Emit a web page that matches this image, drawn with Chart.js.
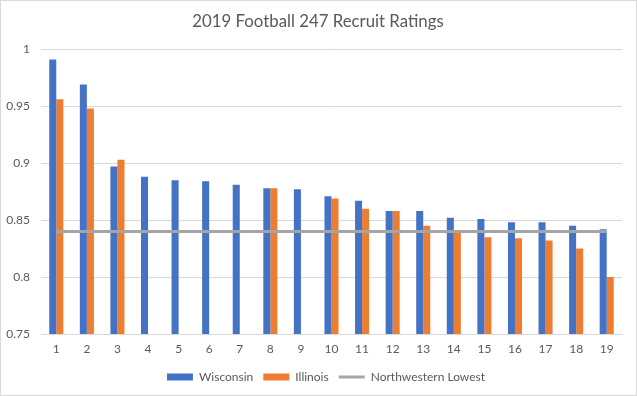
<!DOCTYPE html>
<html>
<head>
<meta charset="utf-8">
<script src="https://cdn.jsdelivr.net/npm/chart.js@4/dist/chart.umd.min.js"></script>
<style>
  html, body { margin: 0; padding: 0; background: #fff; }
  #wrap { position: relative; width: 637px; height: 396px; }
  #frame { position: absolute; left: 0; top: 0; width: 637px; height: 396px; box-sizing: border-box; border: 1px solid #d9d9d9; pointer-events: none; }
</style>
</head>
<body>
<div id="wrap">
  <canvas id="chart" width="637" height="396"></canvas>
  <div id="frame"></div>
</div>
<script>
// Chart data
const categories = ['1', '2', '3', '4', '5', '6', '7', '8', '9', '10', '11', '12', '13', '14', '15', '16', '17', '18', '19'];
const wisconsin = [0.991, 0.969, 0.897, 0.888, 0.885, 0.884, 0.881, 0.878, 0.877, 0.871, 0.867, 0.858, 0.858, 0.852, 0.851, 0.848, 0.848, 0.845, 0.842];
const illinois = [0.956, 0.948, 0.903, null, null, null, null, 0.878, null, 0.869, 0.860, 0.858, 0.845, 0.840, 0.835, 0.834, 0.832, 0.825, 0.800];
const northwesternLowest = [0.84, 0.84, 0.84, 0.84, 0.84, 0.84, 0.84, 0.84, 0.84, 0.84, 0.84, 0.84, 0.84, 0.84, 0.84, 0.84, 0.84, 0.84, 0.84];
const yTicks = [0.75, 0.8, 0.85, 0.9, 0.95, 1];
const yTickLabels = ['0.75', '0.8', '0.85', '0.9', '0.95', '1'];

const textColor = '#595959';
const gridColor = '#d9d9d9';
const fontFamily = 'Lato, "Liberation Sans", sans-serif';

// nudge title and legend so they sit centred on the whole chart like the original
const centreShift = {
    id: 'centreShift',
    afterLayout(chart) {
        if (chart.legend) {
            chart.legend.left += 15;
            chart.legend.right += 15;
        }
        if (chart.titleBlock) {
            chart.titleBlock.left += 7;
            chart.titleBlock.right += 7;
        }
    }
};

const ctx = document.getElementById('chart').getContext('2d');

new Chart(ctx, {
    data: {
        labels: categories,
        datasets: [
            {
                type: 'line',
                label: 'Northwestern Lowest',
                data: northwesternLowest,
                borderColor: '#a5a5a5',
                backgroundColor: '#a5a5a5',
                borderWidth: 3,
                pointRadius: 0,
                order: 0
            },
            {
                type: 'bar',
                label: 'Wisconsin',
                data: wisconsin,
                backgroundColor: '#4472c4',
                categoryPercentage: 0.46,
                barPercentage: 1,
                order: 1
            },
            {
                type: 'bar',
                label: 'Illinois',
                data: illinois,
                backgroundColor: '#ed7d31',
                categoryPercentage: 0.46,
                barPercentage: 1,
                order: 2
            }
        ]
    },
    options: {
        responsive: false,
        animation: false,
        layout: { padding: { left: 0, right: 15, top: 0, bottom: 3 } },
        plugins: {
            title: {
                display: true,
                text: '2019 Football 247 Recruit Ratings',
                color: textColor,
                font: { family: fontFamily, size: 16.8, weight: 'normal' },
                padding: { top: 12, bottom: 17 }
            },
            legend: {
                position: 'bottom',
                labels: {
                    color: textColor,
                    font: { family: fontFamily, size: 12 },
                    usePointStyle: true,
                    pointStyleWidth: 26,
                    boxHeight: 7,
                    padding: 10,
                    sort: (a, b) => b.datasetIndex === 0 ? -1 : (a.datasetIndex === 0 ? 1 : a.datasetIndex - b.datasetIndex),
                    generateLabels: (chart) => {
                        const items = Chart.defaults.plugins.legend.labels.generateLabels(chart);
                        items.forEach(item => {
                            if (item.datasetIndex === 0) {
                                item.pointStyle = 'line';
                                item.strokeStyle = '#a5a5a5';
                                item.lineWidth = 3;
                            } else {
                                item.pointStyle = 'rect';
                                item.lineWidth = 0;
                            }
                        });
                        return items;
                    }
                }
            },
            tooltip: { enabled: false }
        },
        scales: {
            x: {
                grid: { display: false, drawTicks: false },
                border: { color: gridColor, width: 1 },
                ticks: { color: textColor, font: { family: fontFamily, size: 12 }, padding: 8 },
                afterFit: (scale) => { scale.height = 27; }
            },
            y: {
                min: 0.75,
                max: 1,
                grid: { color: gridColor, drawTicks: false },
                border: { display: false },
                ticks: {
                    color: textColor,
                    font: { family: fontFamily, size: 12 },
                    padding: 11,
                    callback: (value) => yTickLabels[yTicks.findIndex(t => Math.abs(t - value) < 1e-6)]
                },
                afterBuildTicks: (scale) => { scale.ticks = yTicks.map(v => ({ value: v })); },
                afterFit: (scale) => { scale.width = 41; }
            }
        }
    },
    plugins: [centreShift]
});
</script>
</body>
</html>
